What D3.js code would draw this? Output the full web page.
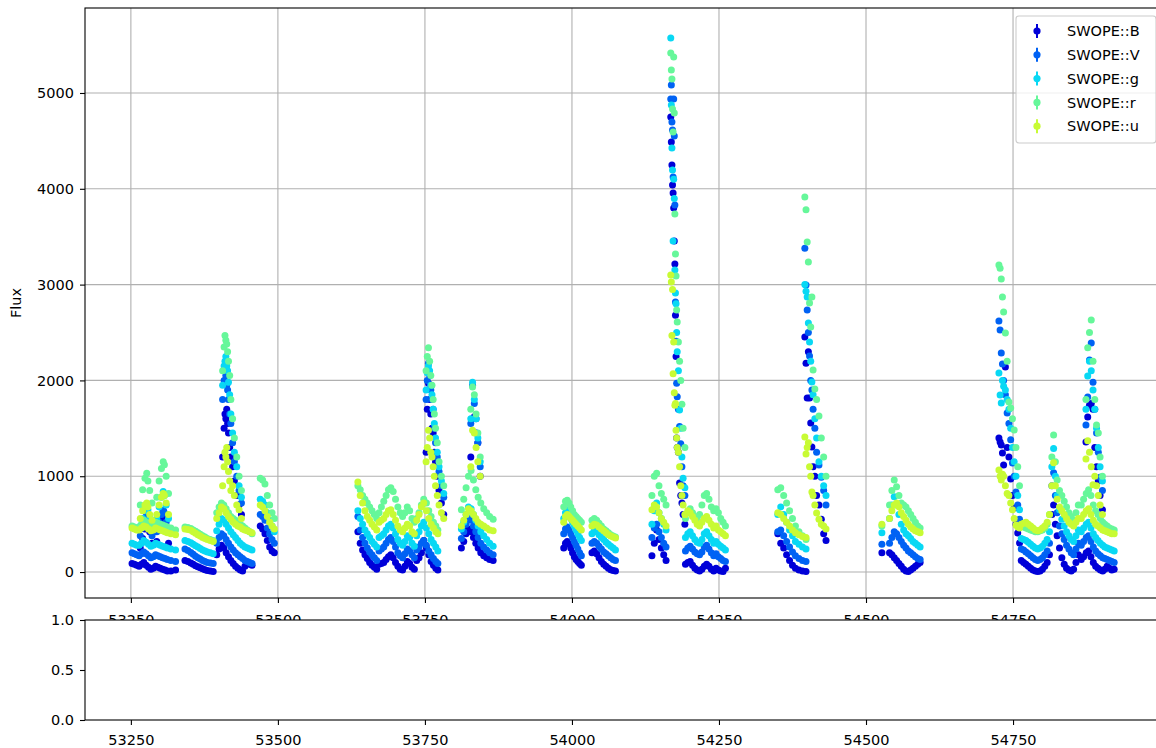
<!DOCTYPE html>
<html><head><meta charset="utf-8">
<script src="https://cdn.jsdelivr.net/npm/d3@7"></script>
<style>
body{margin:0;background:#fff;}
svg{display:block;font-family:"DejaVu Sans",sans-serif;}
</style>
</head><body>
<svg id="c" width="1156" height="748"></svg>
<script>
// ---------------- data ----------------
const bands = ["SWOPE::B","SWOPE::V","SWOPE::g","SWOPE::r","SWOPE::u"];
const bandColors = ["#0000d8","#0062f4","#08d8f4","#66f79a","#c8fb34"];

const mjd = [
 53252,53256,53260,53264,53268,53272,53276,53280,53284,53288,53292,53296,53300,53304,53308,53312,53318,53326,
 53266,53270,53274,53277,53279,53282,53286,53294,53298,53302,53305,53307,53310,53314,
 53342,53347,53352,53356,53360,53364,53368,53372,53376,53380,53385,53390,
 53396,53400,53404,53408,53412,53416,53420,53424,53428,53432,53436,53440,53444,53448,53452,53456,
 53406,53408.5,53410,53411.5,53413,53414.5,53416,53418,53420,53423,53426,53430,53434,53438,
 53470,53474,53478,53482,53486,53490,53494,
 53636,53640,53644,53648,53652,53656,53660,53664,53668,
 53672,53676,53680,53684,53688,53692,53696,53700,53704,53708,53712,53716,53720,53724,53728,53732,
 53736,53740,53744,53748,53752.5,53756.5,53760.5,53764.5,53768.5,53772,
 53752,53754,53756,53758,53760,53762,53764,53766,53768,53771,53774,53778,53782,
 53828,53831,53834,53837,53840,53844,
 53812,53816,53820,53824,53828.5,53832.5,53836.5,53840.5,53845,53850,53855,53860,53866,
 53986,53989,53992,53995,53998,54001,54004,54007,54010,54013,54016,
 54034,54038,54042,54046,54050,54054,54058,54062,54066,54070,54074,
 54136,54140,54144,54148,54152,54156,54160,
 54168,54169,54170,54171,54172,54173,54174,54175,54176,54177,54178,54179,54181,54183,54185,54187,54189,54192,
 54193,54197,54201,54205,54209,54213,54217,54221,54225,54229,54233,54237,54241,54245,54249,54253,54257,54261,
 54350,54355,54360,54365,54370,54375,54380,54386,54392,54398,
 54396,54398,54400,54402,54404,54406,54408,54410,54413,54416,54420,54424,54428,54432,
 54527,54540,54544,54548,54552,54556,54560,54564,54568,54572,54576,54580,54584,54588,54592,
 54726,54728,54730,54732,54734,54737,54740,54743,54746,54749,54752,54755,54758,54761,
 54764,54768,54772,54776,54780,54784,54788,54792,54796,54800,54804,54808,54812,
 54816,54819,54822,54825,54829,54833,54837,54841,54845,54849,54853,54857,54861,
 54874,54877,54880,54883,54886,54889,54892,54895,54898,54902,
 54866,54870,54874.5,54878.5,54882.5,54886.5,54890.5,54894.5,54898.5,54902.5,54906,54910,54914,54918,54922
];

const fluxB = [
 90,80,70,60,80,100,70,50,30,40,60,50,40,30,20,10,10,20,
 250,350,450,620,560,420,300,320,440,560,640,580,440,300,
 120,110,95,80,65,55,45,35,25,15,10,5,
 180,240,280,250,200,160,120,90,60,40,20,10,60,90,80,70,
 1200,1500,1650,1600,1700,1550,1450,1300,1200,1100,950,800,700,600,
 480,450,400,330,260,220,200,
 420,300,230,180,140,100,70,50,30,
 80,90,100,130,160,180,150,100,60,30,20,60,110,90,50,30,
 120,150,200,330,250,180,110,70,40,20,
 1250,1700,1970,1800,1650,1500,1450,1250,1150,1000,850,720,600,
 1200,1600,1620,1450,1350,1000,
 250,320,400,450,420,360,300,250,200,170,150,130,120,
 250,300,320,290,250,200,160,130,110,90,70,
 200,220,190,150,110,80,60,40,25,15,10,
 170,300,440,340,250,180,120,
 4750,4489,4248,4040,3956,3800,3455,3215,2680,2250,1400,1300,1250,930,800,720,600,500,
 80,100,110,70,40,20,10,30,60,80,60,30,10,40,20,10,5,40,
 400,300,250,180,120,70,40,20,10,5,
 2453,2180,1816,2300,1816,1555,1305,1100,1000,800,700,550,400,330,
 200,200,180,150,120,90,60,30,10,5,20,40,60,80,100,
 1400,1357,1325,1242,1117,2140,1300,1200,970,800,668,500,407,303,
 120,100,80,60,40,20,10,5,10,30,60,100,180,
 600,700,500,380,250,150,80,40,20,10,30,100,180,
 1357,1618,1740,1760,1700,1300,1100,950,800,650,
 130,160,200,220,160,100,60,40,20,10,30,60,40,20,30
];

const fluxV = [
 200,190,180,170,190,210,190,170,150,160,180,170,160,150,140,130,120,110,
 380,460,540,600,560,460,380,420,520,600,640,620,520,420,
 240,225,205,185,165,150,135,120,110,100,95,90,
 300,360,400,380,340,300,260,230,200,180,160,140,120,110,100,90,
 1800,2000,2100,2050,1950,1900,1800,1650,1550,1350,1150,1000,850,720,
 600,580,540,460,400,340,300,
 580,440,360,300,250,210,180,150,120,
 220,240,260,300,340,360,320,260,200,170,150,190,240,220,180,150,
 230,260,300,330,280,220,180,140,110,90,
 1800,2000,2180,2050,1900,1800,1700,1500,1350,1200,1050,900,780,
 1550,1950,1760,1600,1350,1100,
 350,420,500,560,540,480,420,360,300,260,230,200,180,
 400,450,470,440,400,360,320,280,240,200,170,
 300,320,300,270,240,210,190,170,150,130,120,
 360,460,500,420,360,300,260,
 4937,5083,4697,4614,4123,4937,4550,3831,2818,2410,1970,1830,1700,1520,1340,1100,900,800,
 220,250,270,240,210,190,180,210,260,280,240,200,170,190,160,140,120,110,
 420,440,380,320,260,210,170,140,120,110,
 3380,2996,2735,2500,2255,2000,1900,1700,1500,1250,1117,990,850,700,
 290,300,360,420,400,360,320,280,250,220,200,180,160,140,130,
 2620,2526,2286,2171,2000,1850,1660,1550,1380,1138,1000,835,700,550,
 240,230,210,190,170,150,130,120,130,150,180,220,300,
 900,1035,800,620,480,400,340,280,240,200,180,240,300,
 1534,1827,2213,2390,1980,1700,1450,1250,990,850,
 280,320,360,380,320,260,220,190,170,150,140,130,120,110,100
];

const fluxG = [
 300,290,280,280,300,330,310,290,270,280,300,290,280,270,260,250,240,230,
 480,560,640,700,650,560,460,560,680,780,840,800,700,560,
 330,320,305,290,275,260,245,230,220,210,200,190,
 430,500,560,540,500,460,420,390,360,330,300,280,260,250,240,230,
 1950,2150,2200,2250,2150,2100,1980,1850,1650,1450,1250,1100,900,780,
 760,740,700,620,540,480,420,
 640,560,500,440,400,360,320,290,260,
 360,380,400,440,480,500,460,400,340,300,280,320,380,360,300,270,
 380,420,480,520,460,400,340,300,260,220,
 1900,2080,2150,2100,1950,1850,1700,1550,1400,1250,1100,950,820,
 1600,1980,1800,1600,1400,1150,
 450,520,600,680,660,600,540,480,420,380,340,300,270,
 560,620,650,600,560,520,480,440,400,360,330,
 400,430,420,390,360,340,310,290,270,250,230,
 500,640,720,620,560,500,440,
 5574,4875,4426,4196,3455,4100,3900,3152,2912,2800,2500,2300,2100,1690,1500,1200,980,880,
 360,400,420,380,340,310,300,340,400,420,380,340,300,320,290,270,250,230,
 600,680,600,520,440,380,320,290,260,240,
 3000,2930,2870,2600,2400,2200,1983,1850,1600,1400,1150,1000,900,800,
 410,560,700,785,700,600,500,440,400,380,350,320,300,280,260,
 2077,1848,1764,2000,1940,1900,1800,1700,1500,1300,1150,1000,800,650,
 350,340,330,310,290,270,250,240,250,270,300,340,420,
 1100,1290,1000,800,650,550,480,420,380,340,320,380,440,
 1700,2046,2200,2100,1900,1700,1500,1300,1100,950,
 420,460,500,520,460,400,360,330,300,280,260,250,240,230,220
];

const fluxR = [
 480,470,460,470,500,540,520,500,480,490,520,510,500,490,480,470,460,440,
 700,860,980,1030,950,850,720,780,950,1080,1150,1120,1000,820,
 470,465,455,440,425,410,395,380,365,350,340,330,
 620,680,720,700,660,620,580,560,540,520,500,480,460,440,420,400,
 2100,2350,2470,2420,2380,2300,2200,2050,1800,1600,1400,1200,1000,850,
 980,960,920,800,700,620,560,
 900,860,800,760,720,680,640,600,560,
 620,680,740,800,860,880,840,760,680,620,580,620,680,640,560,520,
 560,620,700,760,720,640,580,520,480,440,
 2100,2250,2340,2200,2050,1950,1800,1650,1500,1350,1150,1000,900,
 1700,1930,1850,1650,1450,1200,
 650,760,880,1000,1060,960,860,780,720,660,620,580,550,
 680,740,750,720,680,640,600,580,560,540,520,
 540,560,540,510,480,450,430,410,390,375,365,
 800,1000,1030,900,820,760,700,
 5418,5240,5146,4833,4593,5375,4791,3737,3319,3090,2735,2610,2400,2200,2000,1750,1500,1300,
 560,620,660,620,580,560,600,700,800,820,760,680,640,660,620,560,520,480,
 860,880,800,720,640,560,480,420,380,340,
 3915,3780,3445,3236,2808,2557,2870,2108,1910,1800,1628,1400,1200,1000,
 480,700,850,960,890,800,720,700,680,640,600,560,520,480,460,
 3205,3170,3058,2870,2714,2495,2200,1775,1712,1600,1482,1300,1100,900,
 480,470,460,450,440,430,420,420,430,440,460,500,600,
 1200,1430,1150,960,850,800,740,680,620,580,540,620,700,
 1800,2340,2500,2630,2200,1800,1534,1450,1200,1000,
 700,760,820,860,800,700,640,600,560,520,500,480,460,450,440
];

const fluxU = [
 460,450,440,440,460,480,470,450,430,440,460,450,440,430,420,410,400,390,
 560,640,700,720,680,600,540,600,700,780,820,800,720,600,
 450,445,435,420,405,390,375,360,350,340,330,320,
 560,620,680,660,620,580,550,520,500,480,470,450,440,430,420,410,
 900,1100,1250,1200,1300,1150,1050,950,850,900,800,700,650,560,
 700,680,640,580,520,480,450,
 940,800,720,640,580,540,500,470,440,
 520,540,560,600,640,650,600,540,480,440,420,460,500,480,420,400,
 540,600,680,720,640,560,500,460,420,400,
 1150,1300,1480,1400,1250,1200,1100,1000,900,800,700,620,560,
 1100,1480,1450,1300,1150,1000,
 480,540,600,660,640,600,560,520,500,480,460,440,430,
 520,580,600,580,560,540,520,500,480,460,440,
 480,500,490,470,450,430,410,390,375,365,355,
 650,700,680,620,560,520,480,
 3100,3027,2470,2950,2070,2400,1870,1740,1760,1480,1400,1300,1250,1100,900,800,700,600,
 600,640,620,580,540,500,480,520,560,580,540,500,460,480,440,420,400,380,
 620,600,560,520,480,440,410,390,370,360,
 1410,1232,1300,1350,1100,1000,835,800,700,615,550,500,480,450,
 500,560,640,700,720,680,620,580,540,500,470,450,430,420,410,
 1065,1000,960,1020,1000,900,820,800,720,650,560,490,470,460,
 500,510,520,500,480,460,440,430,440,460,480,520,600,
 900,1140,900,760,680,640,600,560,520,500,480,520,560,
 1180,1370,1250,1100,910,1000,900,800,700,600,
 560,600,640,660,600,540,500,480,460,440,430,420,410,400,400
];

const xTicks = [53250,53500,53750,54000,54250,54500,54750];
const yTicks = [0,1000,2000,3000,4000,5000];
const lowerTicks = [0,0.5,1.0];
const yLabel = "Flux";

// ---------------- drawing ----------------
const fluxes = [fluxB, fluxV, fluxG, fluxR, fluxU];

const svg = d3.select("#c");
const L = 85, R = 1163, T = 8, B = 598;
const LT = 620, LB = 720;
const TICKC = "#000", GRIDC = "#b0b0b0";
const FS = 14.5;

const x = d3.scaleLinear().domain([53172, 55005]).range([L, R]);
const y = d3.scaleLinear().domain([-271, 5887]).range([B, T]);
const y2 = d3.scaleLinear().domain([0, 1]).range([LB, LT]);

svg.append("rect").attr("width",1156).attr("height",748).attr("fill","#fff");

// main grid
const main = svg.append("g");
main.selectAll("line.gx").data(xTicks).join("line")
  .attr("x1", d => x(d)).attr("x2", d => x(d)).attr("y1", T).attr("y2", B)
  .attr("stroke", GRIDC).attr("stroke-width", 1.1);
main.selectAll("line.gy").data(yTicks).join("line")
  .attr("x1", L).attr("x2", R).attr("y1", d => y(d)).attr("y2", d => y(d))
  .attr("stroke", GRIDC).attr("stroke-width", 1.1);

// points
svg.append("clipPath").attr("id","clipMain").append("rect")
  .attr("x", L).attr("y", T).attr("width", R - L).attr("height", B - T);
const pts = svg.append("g").attr("clip-path","url(#clipMain)");
fluxes.forEach((f, k) => {
  pts.append("g").selectAll("circle").data(d3.range(mjd.length)).join("circle")
    .attr("cx", i => x(mjd[i])).attr("cy", i => y(f[i])).attr("r", 3.5)
    .attr("fill", bandColors[k]);
});

// main axes
const ax = svg.append("g").attr("transform", `translate(0,${B})`)
  .call(d3.axisBottom(x).tickValues(xTicks).tickSize(5).tickSizeOuter(0).tickPadding(6).tickFormat(d3.format("d")));
const ay = svg.append("g").attr("transform", `translate(${L},0)`)
  .call(d3.axisLeft(y).tickValues(yTicks).tickSize(5).tickSizeOuter(0).tickPadding(6).tickFormat(d3.format("d")));
[ax, ay].forEach(g => {
  g.select(".domain").remove();
  g.selectAll(".tick line").attr("stroke", TICKC).attr("stroke-width", 1.1);
  g.selectAll(".tick text").attr("fill", "#000").style("font-size", FS + "px").style("font-family", '"DejaVu Sans"');
});
ax.selectAll(".tick text").attr("dy", "1.08em");

// main frame
svg.append("rect").attr("x", L).attr("y", T).attr("width", R - L).attr("height", B - T)
  .attr("fill", "none").attr("stroke", "#000").attr("stroke-width", 1.1);

// y label
svg.append("text").attr("transform", `translate(21,${(T + B) / 2}) rotate(-90)`)
  .attr("text-anchor", "middle").style("font-size", FS + "px").attr("fill", "#000").text(yLabel);

// legend
const lg = svg.append("g");
lg.append("rect").attr("x", 1016).attr("y", 16).attr("width", 140).attr("height", 127)
  .attr("rx", 3).attr("fill", "#fff").attr("fill-opacity", 0.8)
  .attr("stroke", "#cccccc").attr("stroke-width", 1.1);
bands.forEach((name, k) => {
  const cy = 31 + k * 23.8;
  lg.append("line").attr("x1", 1037).attr("x2", 1037).attr("y1", cy - 7).attr("y2", cy + 7)
    .attr("stroke", bandColors[k]).attr("stroke-width", 2);
  lg.append("circle").attr("cx", 1037).attr("cy", cy).attr("r", 3.6).attr("fill", bandColors[k]);
  lg.append("text").attr("x", 1067).attr("y", cy).attr("dy", "0.36em")
    .style("font-size", FS + "px").attr("fill", "#000").text(name);
});

// lower panel (drawn on top, hides part of main tick labels)
svg.append("rect").attr("x", L).attr("y", LT).attr("width", R - L).attr("height", LB - LT)
  .attr("fill", "#fff");
const bx = svg.append("g").attr("transform", `translate(0,${LB})`)
  .call(d3.axisBottom(x).tickValues(xTicks).tickSize(5).tickSizeOuter(0).tickPadding(6).tickFormat(d3.format("d")));
const by = svg.append("g").attr("transform", `translate(${L},0)`)
  .call(d3.axisLeft(y2).tickValues(lowerTicks).tickSize(5).tickSizeOuter(0).tickPadding(6).tickFormat(d3.format(".1f")));
[bx, by].forEach(g => {
  g.select(".domain").remove();
  g.selectAll(".tick line").attr("stroke", TICKC).attr("stroke-width", 1.1);
  g.selectAll(".tick text").attr("fill", "#000").style("font-size", FS + "px").style("font-family", '"DejaVu Sans"');
});
bx.selectAll(".tick text").attr("dy", "0.95em");
svg.append("rect").attr("x", L).attr("y", LT).attr("width", R - L).attr("height", LB - LT)
  .attr("fill", "none").attr("stroke", "#000").attr("stroke-width", 1.1);
</script>
</body></html>
